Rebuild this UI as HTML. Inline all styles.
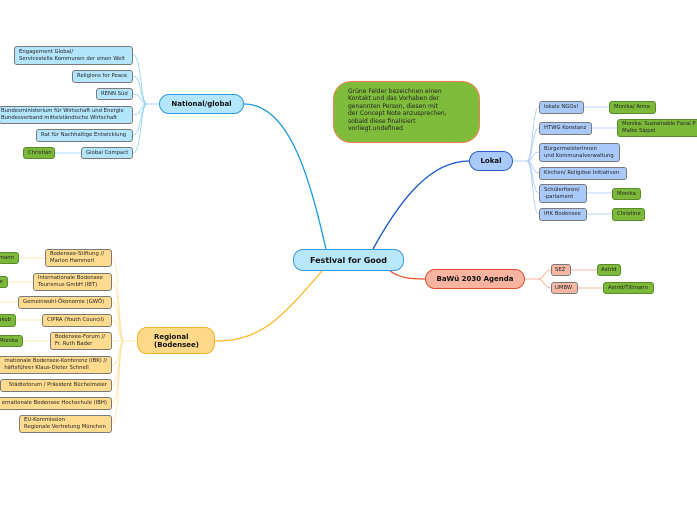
<!DOCTYPE html>
<html><head><meta charset="utf-8"><style>
body{margin:0;width:697px;height:520px;background:#fff;position:relative;overflow:hidden;font-family:"DejaVu Sans","Liberation Sans",sans-serif}
.n{position:absolute;box-sizing:border-box;font-size:5.3px;line-height:6.6px;color:#222;border:1px solid #7a7a7a;border-radius:3px;padding:0 4px;display:flex;align-items:center;white-space:nowrap;overflow:hidden}
.b{background:#b3e5fc}
.o{background:#ffdb8f}
.l{background:#a9c9f9}
.s{background:#f8b7a4}
.g{background:#7cb83a;border-color:#5a8a2a}
.h{position:absolute;box-sizing:border-box;display:flex;align-items:center;justify-content:center;font-weight:bold;color:#111;border-radius:10px}
svg{position:absolute;left:0;top:0}
</style></head><body>
<svg width="697" height="520" fill="none">
<path d="M326,249 C310,180 290,104 244,104" stroke="#1a9be0" stroke-width="1.3"/>
<path d="M322,271 C280,320 260,341 215,341" stroke="#fbb927" stroke-width="1.3"/>
<path d="M373,249 C400,200 430,161 469,161" stroke="#1a55c8" stroke-width="1.3"/>
<path d="M390,271 C400,278 410,279 425,279" stroke="#e8502a" stroke-width="1.3"/>
<g stroke="#8fd3f4" stroke-width="0.8">
<path d="M147,104 L159,104"/>
<path d="M133,55 C142,55 140,104 147,104"/>
<path d="M133,76 C142,76 140,104 147,104"/>
<path d="M133,94 C142,94 140,104 147,104"/>
<path d="M133,115 C142,115 140,104 147,104"/>
<path d="M133,135 C142,135 140,104 147,104"/>
<path d="M133,153 C142,153 140,104 147,104"/>
<path d="M55,153 L81,153"/>
</g>
<g stroke="#ffe3a6" stroke-width="0.8">
<path d="M124,341 L137,341"/>
<path d="M112,258 C120,258 118,341 124,341"/>
<path d="M112,282 C120,282 118,341 124,341"/>
<path d="M112,302 C120,302 118,341 124,341"/>
<path d="M112,320 C120,320 118,341 124,341"/>
<path d="M112,341 L124,341"/>
<path d="M112,365 C120,365 118,341 124,341"/>
<path d="M112,385 C120,385 118,341 124,341"/>
<path d="M112,403 C120,403 118,341 124,341"/>
<path d="M112,424 C120,424 118,341 124,341"/>
<path d="M19,258 L45,258"/><path d="M8,282 L33,282"/><path d="M0,302 L18,302"/><path d="M16,320 L42,320"/><path d="M23,341 L50,341"/>
</g>
<g stroke="#a9c9f9" stroke-width="0.8">
<path d="M513,161 L527,161"/>
<path d="M539,107 C532,107 533,161 527,161"/>
<path d="M539,128 C532,128 533,161 527,161"/>
<path d="M539,152 C532,152 533,161 527,161"/>
<path d="M539,173 C532,173 533,161 527,161"/>
<path d="M539,193 C532,193 533,161 527,161"/>
<path d="M539,214 C532,214 533,161 527,161"/>
<path d="M584,107 L609,107"/><path d="M592,128 L617,128"/><path d="M587,193 L612,193"/><path d="M587,214 L612,214"/>
</g>
<g stroke="#f8a48c" stroke-width="0.8">
<path d="M525,279 L538,279"/>
<path d="M551,270 C544,270 544,279 538,279"/>
<path d="M551,288 C544,288 544,279 538,279"/>
<path d="M571,270 L597,270"/><path d="M578,288 L603,288"/>
</g>
</svg>

<div class="h" style="left:293px;top:249px;width:111px;height:22px;background:#b8e6fb;border:1px solid #3a9ad9;font-size:8px">Festival for Good</div>
<div class="h" style="left:159px;top:94px;width:85px;height:20px;background:#b3e5fc;border:1px solid #2a9be0;font-size:7px">National/global</div>
<div class="h" style="left:137px;top:327px;width:78px;height:27px;background:#ffd98a;border:1px solid #f6b62a;font-size:7px;line-height:8px;justify-content:flex-start;padding-left:16px">Regional<br>(Bodensee)</div>
<div class="h" style="left:469px;top:151px;width:44px;height:20px;background:#a9c9f9;border:1px solid #2a5fc8;font-size:7px">Lokal</div>
<div class="h" style="left:425px;top:269px;width:100px;height:20px;background:#f8b4a0;border:1px solid #e0502a;font-size:7px">BaWü 2030 Agenda</div>
<div style="position:absolute;left:333px;top:81px;width:147px;height:62px;box-sizing:border-box;background:#80bc3c;border:1.5px solid #f08050;border-radius:18px;font-size:6px;line-height:7.4px;color:#222;padding:6px 0 0 14px">Grüne Felder bezeichnen einen<br>Kontakt und das Vorhaben der<br>genannten Person, diesen mit<br>der Concept Note anzusprechen,<br>sobald diese finalisiert<br>vorliegt.undefined</div>

<div class="n b" style="left:14px;top:46px;width:119px;height:19px">Engagement Global/<br>Servicestelle Kommunen der einen Welt</div>
<div class="n b" style="left:72px;top:70px;width:61px;height:13px">Religions for Peace</div>
<div class="n b" style="left:96px;top:88px;width:37px;height:12px">RENN Süd</div>
<div class="n b" style="left:-1px;top:106px;width:134px;height:18px;padding-left:1px">Bundesministerium für Wirtschaft und Energie<br>Bundesverband mittelständische Wirtschaft</div>
<div class="n b" style="left:36px;top:129px;width:97px;height:13px">Rat für Nachhaltige Entwicklung</div>
<div class="n b" style="left:81px;top:147px;width:52px;height:12px">Global Compact</div>
<div class="n g" style="left:23px;top:147px;width:32px;height:12px">Christian</div>

<div class="n o" style="left:45px;top:249px;width:67px;height:18px">Bodensee-Stiftung //<br>Marion Hammerl</div>
<div class="n g" style="left:-12px;top:252px;width:31px;height:12px;justify-content:flex-end">mann</div>
<div class="n o" style="left:33px;top:273px;width:79px;height:18px">Internationale Bodensee<br>Tourismus GmbH (IBT)</div>
<div class="n g" style="left:-12px;top:276px;width:20px;height:12px;justify-content:flex-end">e</div>
<div class="n o" style="left:18px;top:296px;width:94px;height:13px">Gemeinwohl-Ökonomie (GWÖ)</div>
<div class="n o" style="left:42px;top:314px;width:70px;height:13px">CIPRA (Youth Council)</div>
<div class="n g" style="left:-12px;top:314px;width:28px;height:13px;justify-content:flex-end">akob</div>
<div class="n o" style="left:50px;top:332px;width:62px;height:18px">Bodensee-Forum //<br>Fr. Ruth Bader</div>
<div class="n g" style="left:-12px;top:335px;width:35px;height:12px;justify-content:flex-end">Monika</div>
<div class="n o" style="left:-10px;top:356px;width:122px;height:18px;justify-content:flex-end">rnationale Bodensee-Konferenz (IBK) //<br>häftsführer Klaus-Dieter Schnell</div>
<div class="n o" style="left:0px;top:379px;width:112px;height:13px;justify-content:flex-end">Städteforum / Präsident Büchelmeier</div>
<div class="n o" style="left:-10px;top:397px;width:122px;height:13px;justify-content:flex-end">ernationale Bodensee Hochschule (IBH)</div>
<div class="n o" style="left:19px;top:415px;width:93px;height:18px">EU-Kommission<br>Regionale Vertretung München</div>

<div class="n l" style="left:539px;top:101px;width:45px;height:13px">lokale NGOs!</div>
<div class="n g" style="left:609px;top:101px;width:47px;height:13px">Monika/ Anna</div>
<div class="n l" style="left:539px;top:122px;width:53px;height:13px">HTWG Konstanz</div>
<div class="n g" style="left:617px;top:119px;width:90px;height:18px">Monika: Sustainable Focal P<br>Maike Sippel</div>
<div class="n l" style="left:539px;top:143px;width:81px;height:19px">BürgermeisterInnen<br>und Kommunalverwaltung</div>
<div class="n l" style="left:539px;top:167px;width:88px;height:13px">Kirchen/ Religiöse Initiativen</div>
<div class="n l" style="left:539px;top:184px;width:48px;height:19px">Schülerforen/<br>-parlament</div>
<div class="n g" style="left:612px;top:188px;width:29px;height:12px">Monika</div>
<div class="n l" style="left:539px;top:208px;width:48px;height:13px">IHK Bodensee</div>
<div class="n g" style="left:612px;top:208px;width:33px;height:13px">Christine</div>

<div class="n s" style="left:551px;top:264px;width:20px;height:12px;padding:0 3px">SEZ</div>
<div class="n g" style="left:597px;top:264px;width:24px;height:12px;padding:0 3px">Astrid</div>
<div class="n s" style="left:551px;top:282px;width:27px;height:12px;padding:0 3px">UMBW</div>
<div class="n g" style="left:603px;top:282px;width:51px;height:12px">Astrid/Tillmann</div>
</body></html>
